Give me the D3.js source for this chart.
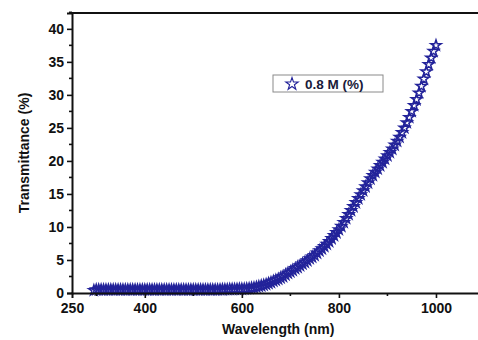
<!DOCTYPE html>
<html>
<head>
<meta charset="utf-8">
<script src="https://cdn.jsdelivr.net/npm/d3@7"></script>
<style>
  html, body { margin: 0; padding: 0; background: #fff; overflow: hidden; }
  svg { display: block; font-family: "Liberation Sans", Arial, sans-serif; }
</style>
</head>
<body>
<svg id="chart" width="478" height="340"></svg>
<script>
// wavelength grid (nm) and transmittance (%)
const wavelength = [
  295, 300, 305, 310, 315, 320, 325, 330, 335, 340, 345, 350, 355, 360,
  365, 370, 375, 380, 385, 390, 395, 400, 405, 410, 415, 420, 425, 430, 435, 440, 445, 450, 455, 460,
  465, 470, 475, 480, 485, 490, 495, 500, 505, 510, 515, 520, 525, 530, 535, 540, 545, 550, 555, 560,
  565, 570, 575, 580, 585, 590, 595, 600, 605, 610, 615, 620, 625, 630, 635, 640, 645, 650, 655, 660,
  665, 670, 675, 680, 685, 690, 695, 700, 705, 710, 715, 720, 725, 730, 735, 740, 745, 750, 755, 760,
  765, 770, 775, 780, 785, 790, 795, 800, 805, 810, 815, 820, 825, 830, 835, 840, 845, 850, 855, 860,
  865, 870, 875, 880, 885, 890, 895, 900, 905, 910, 915, 920, 925, 930, 935, 940, 945, 950, 955, 960,
  965, 970, 975, 980, 985, 990, 995, 1000
];
const transmittance = [
  0.4, 0.5, 0.5, 0.5, 0.5, 0.5, 0.5, 0.5, 0.5, 0.5, 0.5, 0.5, 0.5, 0.5,
  0.5, 0.5, 0.5, 0.5, 0.5, 0.5, 0.5, 0.5, 0.5, 0.5, 0.5, 0.5, 0.5, 0.5, 0.5, 0.5, 0.5, 0.5, 0.5, 0.5,
  0.5, 0.5, 0.5, 0.5, 0.5, 0.5, 0.5, 0.5, 0.5, 0.5, 0.5, 0.5, 0.5, 0.5, 0.5, 0.5, 0.5, 0.5, 0.52, 0.53,
  0.54, 0.55, 0.56, 0.57, 0.58, 0.59, 0.6, 0.6, 0.62, 0.65, 0.7, 0.75, 0.8, 0.9, 1.0, 1.1, 1.2, 1.3, 1.45, 1.6,
  1.8, 1.95, 2.1, 2.3, 2.5, 2.75, 3.0, 3.2, 3.45, 3.7, 3.9, 4.15, 4.4, 4.65, 4.9, 5.2, 5.45, 5.7, 6.05, 6.4,
  6.7, 7.05, 7.4, 7.8, 8.25, 8.7, 9.15, 9.6, 10.1, 10.7, 11.3, 11.9, 12.5, 13.1, 13.7, 14.3, 14.9, 15.5, 16.1, 16.7,
  17.3, 17.8, 18.3, 18.8, 19.3, 19.8, 20.3, 20.8, 21.3, 21.8, 22.4, 23.0, 23.6, 24.3, 25.0, 25.8, 26.6, 27.5, 28.4, 29.3,
  30.3, 31.3, 32.4, 33.5, 34.6, 35.6, 36.6, 37.5
];
const xTickLabels = [250, 400, 600, 800, 1000];
const xMinorTicks = [300, 500, 700, 900, 1100];
const yTickLabels = [0, 5, 10, 15, 20, 25, 30, 35, 40];
const seriesName = '0.8 M (%)';

const margin = { top: 13, left: 72, bottom: 47 };
const width = 478, height = 340;
const svg = d3.select('#chart');

// plot frame runs past the right edge of the picture (to 1100 nm)
const x = d3.scaleLinear([250, 1100], [margin.left, 484.5]);
const y = d3.scaleLinear([0, 42.4], [height - margin.bottom, margin.top]);

const ink = '#111';
const markColor = '#23239a';
const fontSize = 14;

// data stars, drawn under the axes
const star = d3.symbol(d3.symbolStar, 34);
svg.append('g')
  .attr('class', 'series')
  .selectAll('path')
  .data(wavelength.map((w, i) => ({ w, t: transmittance[i] })))
  .join('path')
    .attr('d', star)
    .attr('transform', d => `translate(${x(d.w)},${y(d.t)})`)
    .attr('fill', 'none')
    .attr('stroke', markColor)
    .attr('stroke-width', 1.5);

// x axis
const xAxis = svg.append('g')
  .attr('transform', `translate(0,${y(0)})`)
  .call(d3.axisBottom(x).tickValues(xTickLabels).tickSize(5).tickPadding(5).tickFormat(d3.format('d')))
  .call(g => g.select('.domain').attr('stroke', ink).attr('stroke-width', 2))
  .call(g => g.selectAll('.tick line').attr('stroke', ink).attr('stroke-width', 1.6))
  .call(g => g.selectAll('.tick').filter(d => d === 250).select('line').remove())
  .call(g => g.selectAll('.tick text').attr('fill', ink).attr('font-size', fontSize).attr('font-weight', 700));
xAxis.selectAll('.minor')
  .data(xMinorTicks)
  .join('line')
    .attr('class', 'minor')
    .attr('x1', d => x(d)).attr('x2', d => x(d))
    .attr('y2', 3)
    .attr('stroke', ink).attr('stroke-width', 1.6);

// y axis
const yAxis = svg.append('g')
  .attr('transform', `translate(${margin.left},0)`)
  .call(d3.axisLeft(y).tickValues(yTickLabels).tickSize(5).tickPadding(3))
  .call(g => g.select('.domain').attr('stroke', ink).attr('stroke-width', 2))
  .call(g => g.selectAll('.tick line').attr('stroke', ink).attr('stroke-width', 1.6))
  .call(g => g.selectAll('.tick text').attr('fill', ink).attr('font-size', fontSize).attr('font-weight', 700));
yAxis.selectAll('.minor')
  .data(yTickLabels.map(v => v + 2.5))
  .join('line')
    .attr('class', 'minor')
    .attr('y1', d => y(d)).attr('y2', d => y(d))
    .attr('x2', -3)
    .attr('stroke', ink).attr('stroke-width', 1.6);

// top frame line
svg.append('line')
  .attr('x1', margin.left - 1).attr('x2', width)
  .attr('y1', y(42.4)).attr('y2', y(42.4))
  .attr('stroke', ink).attr('stroke-width', 2);

// axis titles
svg.append('text')
  .attr('x', x(675)).attr('y', 334)
  .attr('text-anchor', 'middle')
  .attr('font-size', fontSize).attr('font-weight', 700).attr('fill', ink)
  .text('Wavelength (nm)');
svg.append('text')
  .attr('transform', `translate(29,${(y(0) + y(42.4)) / 2}) rotate(-90)`)
  .attr('text-anchor', 'middle')
  .attr('font-size', fontSize).attr('font-weight', 700).attr('fill', ink)
  .text('Transmittance (%)');

// legend
const legend = svg.append('g').attr('transform', 'translate(273,75)');
legend.append('rect')
  .attr('width', 110).attr('height', 17)
  .attr('fill', '#fff')
  .attr('stroke', '#8a8a8a').attr('stroke-width', 1);
legend.append('path')
  .attr('d', d3.symbol(d3.symbolStar, 48)())
  .attr('transform', 'translate(19,9)')
  .attr('fill', 'none')
  .attr('stroke', markColor).attr('stroke-width', 1.1);
legend.append('text')
  .attr('x', 32).attr('y', 13.5)
  .attr('font-size', 13.5).attr('font-weight', 700).attr('fill', '#1a1a3a')
  .text(seriesName);
</script>
</body>
</html>
